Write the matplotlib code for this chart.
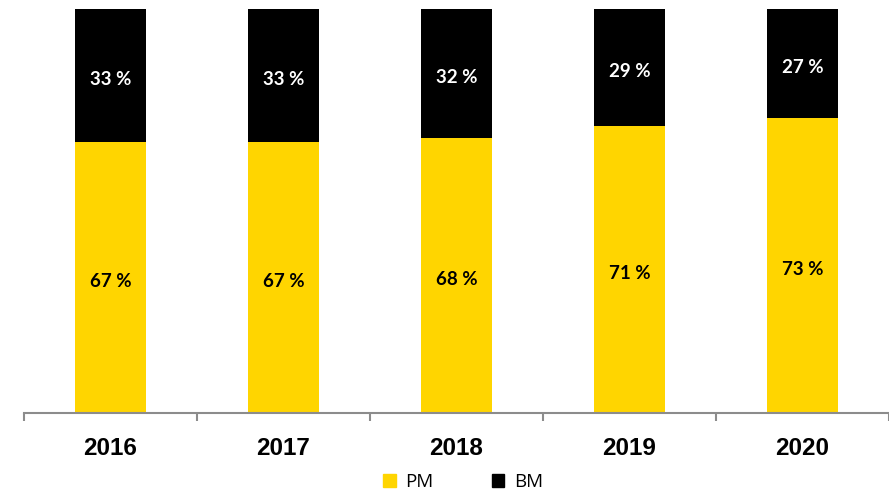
import numpy as np
import matplotlib.pyplot as plt
from matplotlib.patches import Patch

# share of PM and BM per year, in percent
years = ["2016", "2017", "2018", "2019", "2020"]
pm = [67, 67, 68, 71, 73]
bm = [33, 33, 32, 29, 27]

yellow = "#FFD500"
grey = "#8C8C8C"

fig = plt.figure(figsize=(8.89, 4.93), dpi=100)
ax = fig.add_axes([24/889, 1-413/493, 865/889, 404/493])

x = np.arange(len(years))
w = 0.405
ax.bar(x, pm, w, color=yellow, label="PM")
ax.bar(x, bm, w, bottom=pm, color="black", label="BM")

# value labels centred in each segment
lab = dict(ha="center", va="center", fontsize=13.5, fontweight="bold",
           family="Lato", textcoords="offset points", xytext=(0, -2.5))
for i in range(len(years)):
    ax.annotate(f"{pm[i]} %", (x[i], pm[i]/2), color="black", **lab)
    ax.annotate(f"{bm[i]} %", (x[i], pm[i] + bm[i]/2), color="white", **lab)

ax.set_xlim(-0.5, len(years) - 0.5)
ax.set_ylim(0, 100)
ax.set_yticks([])
for s in ["left", "right", "top"]:
    ax.spines[s].set_visible(False)
ax.spines["bottom"].set_color(grey)
ax.spines["bottom"].set_linewidth(1.5)

# tick marks between categories, year labels in the middle
ax.set_xticks(np.arange(-0.5, len(years)), labels=[""] * (len(years) + 1))
ax.tick_params(axis="x", which="major", length=6, width=1.5, color=grey)
ax.set_xticks(x, labels=years, minor=True)
ax.tick_params(axis="x", which="minor", length=0, pad=17)
for lbl in ax.get_xticklabels(minor=True):
    lbl.set_fontsize(17.5)
    lbl.set_fontweight("bold")
    lbl.set_family("Liberation Sans")

handles = [Patch(color=yellow, label="PM"), Patch(color="black", label="BM")]
fig.legend(handles=handles, loc="center", bbox_to_anchor=(463/889, 1-482/493),
           ncol=2, frameon=False, handlelength=0.68, handleheight=0.68,
           columnspacing=3.1, handletextpad=0.5,
           prop={"family": "Open Sans", "size": 13.5})

fig.savefig("out.png", dpi=100)
